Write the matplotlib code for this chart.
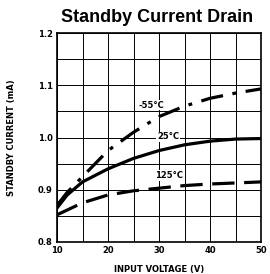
import numpy as np
import matplotlib
matplotlib.use("Agg")
import matplotlib.pyplot as plt

# values
volts = [10, 12, 15, 20, 25, 30, 35, 40, 45, 50]
cur_m55 = [0.870, 0.895, 0.925, 0.975, 1.010, 1.040, 1.060, 1.075, 1.085, 1.093]
cur_25 = [0.865, 0.890, 0.915, 0.940, 0.960, 0.975, 0.986, 0.993, 0.997, 0.998]
volts_125 = [10, 15, 20, 25, 30, 35, 40, 45, 50]
cur_125 = [0.852, 0.875, 0.890, 0.898, 0.903, 0.908, 0.911, 0.913, 0.915]

fig = plt.figure(figsize=(2.70, 2.74), dpi=100)
ax = fig.add_axes([57/270, 1 - 242/274, 204/270, 209/274])

ax.plot(volts, cur_m55, color="black", lw=2.3, dashes=[7, 3, 1.2, 3])
ax.plot(volts, cur_25, color="black", lw=2.3)
ax.plot(volts_125, cur_125, color="black", lw=2.3, dashes=[7, 3])

lbl = dict(fontsize=6, ha="center", va="center", fontweight="bold",
           bbox=dict(fc="white", ec="none", pad=0.5))
ax.text(28.5, 1.062, "-55°C", **lbl)
ax.text(31.8, 1.001, "25°C", **lbl)
ax.text(32.0, 0.927, "125°C", **lbl)

ax.set_xlim(10, 50)
ax.set_ylim(0.8, 1.2)
ax.set_xticks([10, 20, 30, 40, 50])
ax.set_yticks([0.8, 0.9, 1.0, 1.1, 1.2])
ax.set_xticks(np.arange(10, 51, 5), minor=True)
ax.set_yticks(np.arange(0.8, 1.2001, 0.05), minor=True)
ax.grid(True, which="both", color="black", lw=0.7)
ax.tick_params(which="both", length=0, labelsize=6, pad=3)
for t in ax.get_xticklabels() + ax.get_yticklabels():
    t.set_fontweight("bold")
for s in ax.spines.values():
    s.set_linewidth(1.2)

ax.set_xlabel("INPUT VOLTAGE (V)", fontsize=6, labelpad=7, fontweight="bold")
ax.set_ylabel("STANDBY CURRENT (mA)", fontsize=6, labelpad=16, fontweight="bold")
fig.text(157/270, 1 - 17/274, "Standby Current Drain", fontsize=13,
         fontweight="bold", family="Liberation Sans", ha="center", va="center")

fig.savefig("out.png", dpi=100)
